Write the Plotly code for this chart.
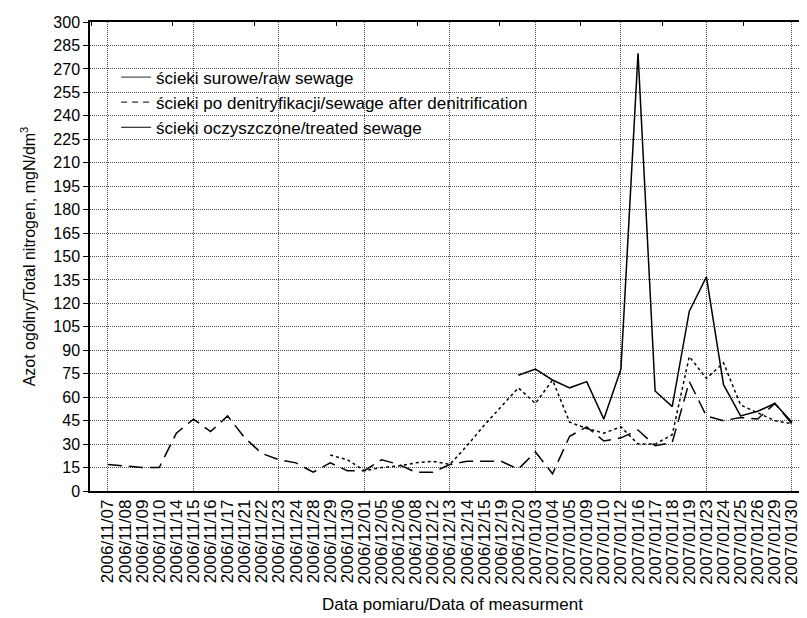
import plotly.graph_objects as go

# ── Data ─────────────────────────────────────────────────────────
dates = [
    '2006/11/07', '2006/11/08', '2006/11/09', '2006/11/10', '2006/11/14',
    '2006/11/15', '2006/11/16', '2006/11/17', '2006/11/21', '2006/11/22',
    '2006/11/23', '2006/11/24', '2006/11/28', '2006/11/29', '2006/11/30',
    '2006/12/01', '2006/12/05', '2006/12/06', '2006/12/08', '2006/12/12',
    '2006/12/13', '2006/12/14', '2006/12/15', '2006/12/19', '2006/12/20',
    '2007/01/03', '2007/01/04', '2007/01/05', '2007/01/09', '2007/01/10',
    '2007/01/12', '2007/01/16', '2007/01/17', '2007/01/18', '2007/01/19',
    '2007/01/23', '2007/01/24', '2007/01/25', '2007/01/26', '2007/01/29',
    '2007/01/30',
]

N = None
raw_sewage = [N] * 24 + [
    74, 78, 71, 66, 70, 46, 78, 280, 64, 54,
    115, 137, 68, 48, 51, 56, 44,
]
denitrified = [
    17, 16, 15, 15, 37, 46, 38, 48, 34, 24,
    20, 18, 12, 18, 13, 13, 20, 17, 12, 12,
    17, 19, 19, 19, 14, 25, 11, 35, 41, 32,
    34, 39, 29, 31, 70, 48, 45, 47, 46, 56,
    43,
]
treated = [N] * 13 + [
    23, 20, 13, 15, 16, 18, 19, 17, 29, 42,
    54, 66, 56, 71, 44, 40, 37, 41, 30, 30,
    36, 86, 72, 82, 55, 50, 45, 43,
]

legend_names = [
    'ścieki surowe/raw sewage',
    'ścieki po denitryfikacji/sewage after denitrification',
    'ścieki oczyszczone/treated sewage',
]

FONT = 'Arial, Liberation Sans, sans-serif'
GRID = dict(showgrid=True, gridcolor='#505050', griddash='1px,1px', gridwidth=1)
idx = list(range(len(dates)))
x_range = [-1.05, 41.35]

fig = go.Figure()

# data lines (legend drawn separately, as in the original)
fig.add_trace(go.Scatter(x=idx, y=raw_sewage, mode='lines', showlegend=False,
                         line=dict(color='black', width=1.5)))
fig.add_trace(go.Scatter(x=idx, y=denitrified, mode='lines', showlegend=False,
                         line=dict(color='black', width=1.5, dash='14px,7px')))
fig.add_trace(go.Scatter(x=idx, y=treated, mode='lines', showlegend=False,
                         line=dict(color='black', width=1.5, dash='3px,3px')))

# legend entries (placed on the grid axis so that its subplot exists)
legend_styles = [
    dict(color='#555555', width=1.2),
    dict(color='#333333', width=1.2, dash='6px,5px'),
    dict(color='black', width=1.2),
]
for name, st in zip(legend_names, legend_styles):
    fig.add_trace(go.Scatter(x=[None], y=[None], mode='lines', name=name,
                             line=st, xaxis='x2'))
fig.add_trace(go.Scatter(x=[None], y=[None], mode='lines', showlegend=False,
                         xaxis='x3'))

fig.update_layout(
    width=807, height=618,
    paper_bgcolor='white', plot_bgcolor='white',
    font=dict(family=FONT, size=17, color='black'),
    margin=dict(l=82, r=0, t=14, b=135),
    showlegend=True,
    legend=dict(x=0.036, y=0.92, xanchor='left', yanchor='top',
                bgcolor='rgba(0,0,0,0)', font=dict(size=17),
                tracegroupgap=0, itemwidth=30),
    xaxis=dict(
        range=x_range, tickmode='array', tickvals=idx, ticktext=dates,
        tickangle=-90, showgrid=False, zeroline=False, ticks='',
        showline=True, linecolor='black', linewidth=1.5,
        tickfont=dict(size=17),
        title=dict(text='Data pomiaru/Data of measurment', font=dict(size=17), standoff=14),
    ),
    xaxis2=dict(
        overlaying='x', anchor='y', range=x_range, tickmode='linear', tick0=0, dtick=5,
        showticklabels=False, ticks='', zeroline=False, showline=False, **GRID,
    ),
    xaxis3=dict(
        overlaying='x', anchor='y', side='top', range=x_range, tickmode='linear',
        tick0=3.8, dtick=4.77, ticks='inside', ticklen=4, tickcolor='black',
        showticklabels=False, showgrid=False, zeroline=False,
        showline=True, linecolor='black', linewidth=1.5,
    ),
    yaxis=dict(
        range=[0, 300], tickmode='linear', tick0=0, dtick=15, **GRID,
        zeroline=False, showline=True, linecolor='black', linewidth=1.5,
        ticks='outside', ticklen=5, tickcolor='black',
        tickfont=dict(size=16),
        title=dict(text='Azot ogólny/Total nitrogen, mgN/dm<sup>3</sup>',
                   font=dict(size=16), standoff=14),
    ),
)

fig.write_html('out.html')
